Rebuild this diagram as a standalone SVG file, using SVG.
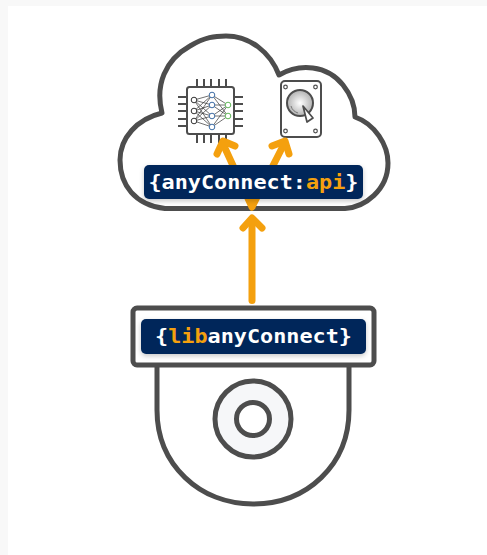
<svg xmlns="http://www.w3.org/2000/svg" width="487" height="555" viewBox="0 0 487 555">
<style>
.o{fill:none;stroke:#4d4d4d;stroke-width:5;stroke-linejoin:round;stroke-linecap:round}
.a{fill:none;stroke:#f4a00e;stroke-width:7;stroke-linecap:round;stroke-linejoin:round}
.b{fill:#00285a;filter:url(#s)}
.t{font-family:"DejaVu Sans Mono",monospace;font-weight:700;font-size:19.5px;fill:#fff;text-anchor:middle}
.h{fill:#f4a00e}
.p{stroke:#4d4d4d;stroke-width:2;fill:none}
.e{stroke:#333;stroke-width:.7;fill:none}
.n{fill:#fff;stroke-width:1}
</style>
<defs>
<filter id="s" x="-10%" y="-30%" width="120%" height="170%"><feDropShadow dx="0" dy="2" stdDeviation="2.5" flood-color="#000" flood-opacity=".22"/></filter>
<radialGradient id="g" cx=".5" cy=".5" r=".55"><stop offset="0" stop-color="#fff"/><stop offset="1" stop-color="#aaa"/></radialGradient>
</defs>
<rect width="487" height="555" fill="#f8f8f8"/>
<rect x="8" y="6" width="479" height="549" fill="#fff"/>
<g id="cloud"><path class="o" d="M165 208.500C135 205 120 185 120 160C120 138 137 119 162 113C155 85 165 60 190 46C205 37 215 36 226 36C250 36 270 52 279 75C300 63 327 65 343 85C351 95 355 105 355 117C375 124 388 145 388 163C388 190 365 207 345 208.500Z"/></g>
<g id="chip">
<rect x="187" y="87" width="47" height="47" rx="2.5" fill="#fff" stroke="#4d4d4d" stroke-width="2"/>
<path class="p" d="M197 79V87M204 79V87M211 79V87M219 79V87M226 79V87M197 134V143M204 134V143M211 134V143M219 134V143M226 134V143M178 97H187M178 104H187M178 111H187M178 119H187M178 126H187M234 97H243M234 104H243M234 111H243M234 119H243M234 126H243"/>
<path class="e" d="M194 100L212 95M194 100L212 105M194 100L212 116M194 100L212 127M194 111L212 95M194 111L212 105M194 111L212 116M194 111L212 127M194 121L212 95M194 121L212 105M194 121L212 116M194 121L212 127M212 95L228 105M212 95L228 116M212 105L228 105M212 105L228 116M212 116L228 105M212 116L228 116M212 127L228 105M212 127L228 116"/>
<g class="n" stroke="#333"><circle cx="194" cy="100" r="2.800"/><circle cx="194" cy="111" r="2.800"/><circle cx="194" cy="121" r="2.800"/></g>
<g class="n" stroke="#3f6ea5"><circle cx="212" cy="95" r="2.800"/><circle cx="212" cy="105" r="2.800"/><circle cx="212" cy="116" r="2.800"/><circle cx="212" cy="127" r="2.800"/></g>
<g class="n" stroke="#62b85a"><circle cx="228" cy="105" r="2.800"/><circle cx="228" cy="116" r="2.800"/></g>
</g>
<g id="disk">
<rect x="281" y="81" width="40" height="56" rx="4" fill="#fff" stroke="#4d4d4d" stroke-width="2"/>
<g fill="#fff" stroke="#4d4d4d" stroke-width="1.200"><circle cx="285.500" cy="87" r="1.800"/><circle cx="315.500" cy="87" r="1.800"/><circle cx="285.500" cy="131" r="1.800"/><circle cx="315.500" cy="131" r="1.800"/></g>
<circle cx="300" cy="103" r="13" fill="url(#g)" stroke="#4d4d4d" stroke-width="2"/>
<path d="M291 106C292 110 295 112 298 113" fill="none" stroke="#777" stroke-width="1"/>
<path d="M303 106L313 118L307 122Z" fill="#fff" stroke="#4d4d4d" stroke-width="1.700" stroke-linejoin="round"/>
</g>
<g id="connectors">
<path class="a" d="M252 207L224 146M252 207L283 146"/>
<path class="a" d="M217 154L223 141L235 146M272 146L285 141L289 154"/>
<path class="a" d="M252 300.500V219" stroke-linecap="butt"/>
<path class="a" d="M243 228L252 218L262 228"/>
</g>
<g id="api"><rect class="b" x="144" y="165" width="219" height="34" rx="5"/>
<text class="t" x="253.500" y="188.500" textLength="210" lengthAdjust="spacingAndGlyphs">{anyConnect:<tspan class="h">api</tspan>}</text></g>
<g id="camera">
<path class="o" d="M157 366V410C157 465 200 504 253 504C307 504 349 465 349 410V366"/>
<circle cx="253" cy="419" r="38" fill="#f6f7f9" stroke="#4d4d4d" stroke-width="5"/>
<circle cx="253" cy="419" r="16.500" fill="#fff" stroke="#4d4d4d" stroke-width="5"/>
<rect class="o" x="133" y="308" width="241" height="57" rx="4"/>
<rect class="b" x="141" y="319" width="225" height="35" rx="5"/>
<text class="t" x="253.500" y="342.500" textLength="197" lengthAdjust="spacingAndGlyphs">{<tspan class="h">lib</tspan>anyConnect}</text>
</g>
</svg>
